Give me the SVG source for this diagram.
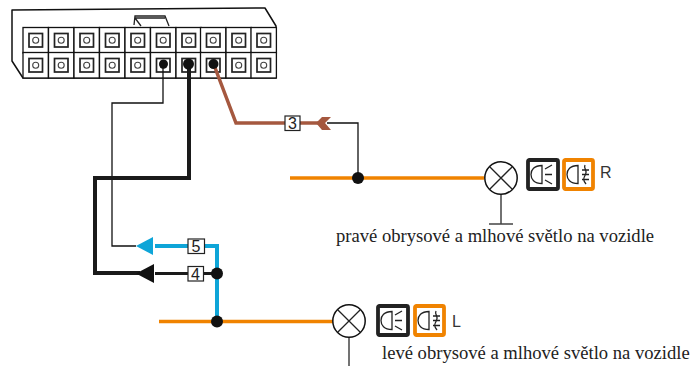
<svg xmlns="http://www.w3.org/2000/svg" xmlns:xlink="http://www.w3.org/1999/xlink" width="693" height="366" viewBox="0 0 693 366">
<style>
.w{fill:none;stroke-linejoin:miter}
.thin{stroke:#111;stroke-width:1.300}
.blk{stroke:#1a1a1a;stroke-width:4}
.blu{stroke:#0ea5d8;stroke-width:4}
.org{stroke:#f08300;stroke-width:3.500}
.brn{stroke:#a5583f;stroke-width:3.500}
.dot{fill:#111}
.lbl{fill:#fff;stroke:#222;stroke-width:1.200}
.num{font:16px "Liberation Sans",Arial,sans-serif;fill:#222;text-anchor:middle}
.ser{font:18.600px "Liberation Serif","Times New Roman",serif;fill:#222}
.sans{font:16px "Liberation Sans",Arial,sans-serif;fill:#333}
.c{fill:#fff;stroke:#111;stroke-width:1.500}
.i{fill:none;stroke:#222;stroke-width:1.300}
.cell{fill:#fff;stroke:#111;stroke-width:1.300}
.sq{fill:#fff;stroke:#222;stroke-width:1.700}
.pin{fill:#fff;stroke:#444;stroke-width:1.100}
</style>
<defs>
<g id="pinc"><rect class="cell" width="25.400" height="25.500"/><rect class="sq" x="6" y="6" width="13.500" height="13.500"/><circle class="pin" cx="12.700" cy="12.700" r="3"/></g>
<g id="low"><rect width="30" height="29" rx="1.500" fill="#fff" stroke="#222" stroke-width="3.800"/><path class="i" d="M14 5.500C6 5.500 3 10 3 14.500S6 23.500 14 23.500ZM17 9L24 5M17 14.500H24M17 20L24 24"/></g>
<g id="fog"><rect width="29" height="29" rx="1.500" fill="#fff" stroke="#f08300" stroke-width="3.800"/><path class="i" d="M14 5.500C6 5.500 3 10 3 14.500S6 23.500 14 23.500ZM21 5C19 9 24 10 21.500 14.500S19 20 22 24M18 10H25M18 14.500H25M18 19.500H25"/></g>
<g id="lamp"><circle class="c" r="16.200"/><path class="i" d="M-11.300-11.300L11.300 11.300M-11.300 11.300L11.300-11.300"/></g>
</defs>

<g id="connector">
<path d="M12 10L265 8L276 26V78L23 78L12 61Z" fill="#fff" stroke="#111" stroke-width="1.500" stroke-linejoin="round"/>
<path d="M134 25L135 16L165 16L169 26M135 18L165 18M135 18L141 26" class="i"/>
<use xlink:href="#pinc" x="23" y="27.500"/><use xlink:href="#pinc" x="48.500" y="27.500"/><use xlink:href="#pinc" x="74" y="27.500"/><use xlink:href="#pinc" x="99.500" y="27.500"/><use xlink:href="#pinc" x="125" y="27.500"/><use xlink:href="#pinc" x="150.500" y="27.500"/><use xlink:href="#pinc" x="176" y="27.500"/><use xlink:href="#pinc" x="200.500" y="27.500"/><use xlink:href="#pinc" x="226" y="27.500"/><use xlink:href="#pinc" x="251" y="27.500"/>
<use xlink:href="#pinc" x="23" y="52.500"/><use xlink:href="#pinc" x="48.500" y="52.500"/><use xlink:href="#pinc" x="74" y="52.500"/><use xlink:href="#pinc" x="99.500" y="52.500"/><use xlink:href="#pinc" x="125" y="52.500"/><use xlink:href="#pinc" x="150.500" y="52.500"/><use xlink:href="#pinc" x="176" y="52.500"/><use xlink:href="#pinc" x="200.500" y="52.500"/><use xlink:href="#pinc" x="226" y="52.500"/><use xlink:href="#pinc" x="251" y="52.500"/>
</g>

<g id="connectors">
<path class="w thin" d="M163 65V103H112V246H136"/>
<path class="w blk" d="M189 65V178H95V273H140"/>
<path class="w brn" d="M214 65L236 123H285"/>
<path class="w brn" d="M298 123H322"/>
<path d="M331 117L322 117L316 123L322 130L331 130L325 123Z" fill="#a5583f"/>
<path class="w thin" d="M327 123H358V178"/>
<path class="w org" d="M290 178H484"/>
<path class="w blu" d="M155 246H217V322"/>
<path class="w blk" d="M155 273.500H217" style="stroke-width:3.200"/>
<path class="w org" d="M159 321.500H333"/>
<path d="M136 246L153 237V255Z" fill="#0ea5d8"/>
<path d="M136 273.500L154 264V283Z" fill="#111"/>
<path d="M501 194V224M489 224H513" fill="none" stroke="#444" stroke-width="1.500"/>
<path d="M349 336V366" fill="none" stroke="#444" stroke-width="1.500"/>
<circle class="dot" cx="163.500" cy="64" r="4.500"/>
<circle class="dot" cx="188.500" cy="64" r="5.500"/>
<circle class="dot" cx="213.500" cy="64" r="5"/>
<circle class="dot" cx="358" cy="178" r="6"/>
<circle class="dot" cx="217" cy="273.500" r="6"/>
<circle class="dot" cx="217" cy="321.500" r="6"/>
</g>

<g id="label-3"><rect class="lbl" x="285" y="116" width="15" height="14.500"/><text class="num" x="292.500" y="129">3</text></g>
<g id="label-5"><rect class="lbl" x="188" y="239" width="16.500" height="14.500"/><text class="num" x="196" y="252">5</text></g>
<g id="label-4"><rect class="lbl" x="188" y="266.500" width="15.500" height="14.500"/><text class="num" x="195.500" y="279.500">4</text></g>

<g id="lamp-r"><use xlink:href="#lamp" x="501" y="178"/></g>
<g id="lowbeam-r"><use xlink:href="#low" x="528" y="160"/></g>
<g id="fog-r"><use xlink:href="#fog" x="564" y="160"/></g>
<text class="sans" x="600" y="178">R</text>
<text class="ser" x="336" y="242">pravé obrysové a mlhové světlo na vozidle</text>

<g id="lamp-l"><use xlink:href="#lamp" x="349" y="321"/></g>
<g id="lowbeam-l"><use xlink:href="#low" x="378" y="306"/></g>
<g id="fog-l"><use xlink:href="#fog" x="415" y="306"/></g>
<text class="sans" x="452" y="327">L</text>
<text class="ser" x="382" y="359">levé obrysové a mlhové světlo na vozidle</text>
</svg>
